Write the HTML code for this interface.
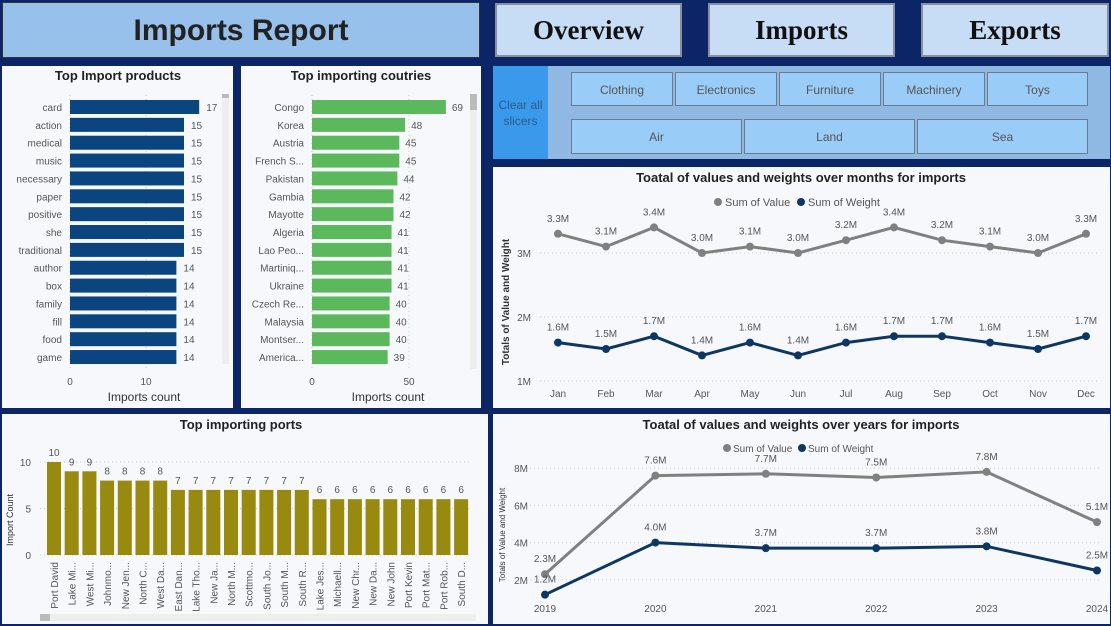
<!DOCTYPE html>
<html><head><meta charset="utf-8">
<style>
*{box-sizing:border-box;margin:0;padding:0}
body{width:1111px;height:626px;overflow:hidden;background:#0b2566;font-family:"Liberation Sans",sans-serif;position:relative}
.p{position:absolute;background:#f6f8fb}
.btn{position:absolute;background:#c6ddf5;border:2px solid #8a8f99;font-family:"Liberation Serif",serif;font-weight:bold;font-size:27px;color:#111;text-align:center;line-height:50px}
.sl{position:absolute;background:#99ccf7;border:1px solid #6b7b8c;font-size:12px;color:#555;text-align:center}
svg text{font-family:"Liberation Sans",sans-serif}
</style></head><body>
<div class="p" style="left:2px;top:2px;width:478px;height:56px;background:#97c0ea;border:1px solid #333;text-align:center;font-weight:bold;font-size:30px;line-height:56px;color:#222">Imports Report</div>
<div class="btn" style="left:495px;top:3px;width:187px;height:54px">Overview</div>
<div class="btn" style="left:708px;top:3px;width:187px;height:54px">Imports</div>
<div class="btn" style="left:921px;top:3px;width:188px;height:54px">Exports</div>

<div class="p" style="left:493px;top:66px;width:617px;height:93px;background:#8fb9e3"></div>
<div style="position:absolute;left:493px;top:66px;width:55px;height:93px;background:#3a99ea;color:#2a5c8c;font-size:12px;text-align:center;padding-top:31px;line-height:16px">Clear all slicers</div>
<div class="sl" style="left:571px;top:72px;width:102px;height:34px;line-height:34px">Clothing</div>
<div class="sl" style="left:675px;top:72px;width:102px;height:34px;line-height:34px">Electronics</div>
<div class="sl" style="left:779px;top:72px;width:102px;height:34px;line-height:34px">Furniture</div>
<div class="sl" style="left:883px;top:72px;width:102px;height:34px;line-height:34px">Machinery</div>
<div class="sl" style="left:987px;top:72px;width:101px;height:34px;line-height:34px">Toys</div>
<div class="sl" style="left:571px;top:119px;width:171px;height:35px;line-height:35px">Air</div>
<div class="sl" style="left:744px;top:119px;width:171px;height:35px;line-height:35px">Land</div>
<div class="sl" style="left:917px;top:119px;width:171px;height:35px;line-height:35px">Sea</div>

<svg width="1111" height="626" style="position:absolute;left:0;top:0" id="s"></svg>
<script>
const products=["card","action","medical","music","necessary","paper","positive","she","traditional","author","box","family","fill","food","game"];
const productCounts=[17,15,15,15,15,15,15,15,15,14,14,14,14,14,14];
const countries=["Congo","Korea","Austria","French S...","Pakistan","Gambia","Mayotte","Algeria","Lao Peo...","Martiniq...","Ukraine","Czech Re...","Malaysia","Montser...","America..."];
const countryCounts=[69,48,45,45,44,42,42,41,41,41,41,40,40,40,39];
const portNames=["Port David","Lake Mi...","West Mi...","Johnmo...","New Jen...","North C...","West Da...","East Dan...","Lake Tho...","New Ja...","North M...","Scottmo...","South Jo...","South M...","South R...","Lake Jes...","Michaell...","New Chr...","New Da...","New John","Port Kevin","Port Mat...","Port Rob...","South D..."];
const portCounts=[10,9,9,8,8,8,8,7,7,7,7,7,7,7,7,6,6,6,6,6,6,6,6,6];
const months=["Jan","Feb","Mar","Apr","May","Jun","Jul","Aug","Sep","Oct","Nov","Dec"];
const monthValue=[3.3,3.1,3.4,3.0,3.1,3.0,3.2,3.4,3.2,3.1,3.0,3.3];
const monthWeight=[1.6,1.5,1.7,1.4,1.6,1.4,1.6,1.7,1.7,1.6,1.5,1.7];
const years=["2019","2020","2021","2022","2023","2024"];
const yearValue=[2.3,7.6,7.7,7.5,7.8,5.1];
const yearWeight=[1.2,4.0,3.7,3.7,3.8,2.5];
const monthTicks=["1M","2M","3M"];
const yearTicks=["2M","4M","6M","8M"];

const s=document.getElementById('s');
function el(t,a,txt,name){const e=document.createElementNS('http://www.w3.org/2000/svg',t);for(const k in a)e.setAttribute(k,a[k]);if(txt!==undefined)e.textContent=txt;


s.appendChild(e);return e;}
el('rect',{x:2,y:66,width:231,height:342,fill:'#f6f8fb'},undefined,'products-panel');
el('rect',{x:241,y:66,width:240,height:342,fill:'#f6f8fb'},undefined,'countries-panel');
el('rect',{x:493,y:167,width:617,height:241,fill:'#f6f8fb'},undefined,'monthly-panel');
el('rect',{x:2,y:414,width:486,height:210,fill:'#f6f8fb'},undefined,'ports-panel');
el('rect',{x:493,y:414,width:617,height:210,fill:'#f6f8fb'},undefined,'yearly-panel');

// products
el('text',{x:118,y:80,'text-anchor':'middle','font-size':13,'font-weight':'bold',fill:'#222'},'Top Import products','products-title');
const px=v=>70+v*7.6;
[0,10].forEach(t=>{el('line',{x1:px(t),x2:px(t),y1:95,y2:368,stroke:'#ccc','stroke-dasharray':'1,3'},undefined,'products-grid');el('text',{x:px(t),y:385,'text-anchor':'middle','font-size':10,fill:'#555'},String(t),'products-tick');});
products.forEach((p,i)=>{const y=107+i*17.86;
el('rect',{x:70,y:y-7,width:px(productCounts[i])-70,height:14,fill:'#0a4580'},undefined,'product-bar');
el('text',{x:62,y:y+4,'text-anchor':'end','font-size':10,fill:'#555'},p,'product-label');
el('text',{x:px(productCounts[i])+7,y:y+4,'font-size':10,fill:'#555'},String(productCounts[i]),'product-value');});
el('text',{x:144,y:401,'text-anchor':'middle','font-size':12,fill:'#333'},'Imports count','products-x-title');
el('rect',{x:222,y:94,width:7,height:270,fill:'#eee'},undefined,'products-scrollbar');
el('rect',{x:222,y:94,width:7,height:4,fill:'#bbb'},undefined,'products-scroll-thumb');

// countries
el('text',{x:361,y:80,'text-anchor':'middle','font-size':13,'font-weight':'bold',fill:'#222'},'Top importing coutries','countries-title');
const cx=v=>312+v*1.94;
[0,50].forEach(t=>{el('line',{x1:cx(t),x2:cx(t),y1:95,y2:368,stroke:'#ccc','stroke-dasharray':'1,3'},undefined,'countries-grid');el('text',{x:cx(t),y:385,'text-anchor':'middle','font-size':10,fill:'#555'},String(t),'countries-tick');});
countries.forEach((p,i)=>{const y=107+i*17.86;
el('rect',{x:312,y:y-7,width:cx(countryCounts[i])-312,height:14,fill:'#5cb85c'},undefined,'country-bar');
el('text',{x:304,y:y+4,'text-anchor':'end','font-size':10,fill:'#555'},p,'country-label');
el('text',{x:cx(countryCounts[i])+6,y:y+4,'font-size':10,fill:'#555'},String(countryCounts[i]),'country-value');});
el('text',{x:388,y:401,'text-anchor':'middle','font-size':12,fill:'#333'},'Imports count','countries-x-title');
el('rect',{x:470,y:94,width:7,height:275,fill:'#eee'},undefined,'countries-scrollbar');
el('rect',{x:470,y:94,width:7,height:16,fill:'#bbb'},undefined,'countries-scroll-thumb');

// ports
el('text',{x:241,y:429,'text-anchor':'middle','font-size':13,'font-weight':'bold',fill:'#222'},'Top importing ports','ports-title');
const py=v=>555-v*9.3;
[0,5,10].forEach(t=>{el('line',{x1:40,x2:472,y1:py(t),y2:py(t),stroke:'#ccc','stroke-dasharray':'1,3'},undefined,'ports-grid');el('text',{x:31,y:py(t)+4,'text-anchor':'end','font-size':10,fill:'#555'},String(t),'ports-tick');});
el('text',{x:0,y:0,transform:'translate(13,520) rotate(-90)','font-size':9,fill:'#333','text-anchor':'middle'},'Import Count','ports-y-title');
portCounts.forEach((v,i)=>{const x=54+i*17.7;
el('rect',{x:x-7,y:py(v),width:14,height:555-py(v),fill:'#978a0e'},undefined,'port-bar');
el('text',{x:x,y:py(v)-6,'text-anchor':'middle','font-size':10,fill:'#555'},String(v),'port-value');
el('text',{x:0,y:0,transform:`translate(${x+4},562) rotate(-90)`,'text-anchor':'end','font-size':10,fill:'#555'},portNames[i],'port-label');});
el('rect',{x:40,y:614,width:436,height:7,fill:'#eee'},undefined,'ports-scrollbar');
el('rect',{x:40,y:614,width:10,height:7,fill:'#bbb'},undefined,'ports-scroll-thumb');

// monthly
el('text',{x:801,y:182,'text-anchor':'middle','font-size':13,'font-weight':'bold',fill:'#222'},'Toatal of values and weights over months for imports','monthly-title');
el('circle',{cx:718,cy:202,r:4,fill:'#808080'},undefined,'legend-value-dot');
el('text',{x:725,y:206,'font-size':11,fill:'#555'},'Sum of Value','legend-value');
el('circle',{cx:801,cy:202,r:4,fill:'#0d3763'},undefined,'legend-weight-dot');
el('text',{x:808,y:206,'font-size':11,fill:'#555'},'Sum of Weight','legend-weight');
const mx=i=>558+i*48, my=v=>381-(v-1)*64;
monthTicks.forEach((t,i)=>{const v=i+1;el('line',{x1:540,x2:1100,y1:my(v),y2:my(v),stroke:'#ccc','stroke-dasharray':'1,3'},undefined,'monthly-grid');el('text',{x:531,y:my(v)+4,'text-anchor':'end','font-size':10,fill:'#555'},t,'monthly-y-tick');});
el('text',{x:0,y:0,transform:'translate(509,302) rotate(-90)','font-size':10,'font-weight':'bold',fill:'#333','text-anchor':'middle'},'Totals of Value and Weight','monthly-y-title');
months.forEach((m,i)=>el('text',{x:mx(i),y:397,'text-anchor':'middle','font-size':10,fill:'#555'},m,'monthly-x-tick'));
function series(xs,ys,xf,yf,col,nm){el('polyline',{points:ys.map((v,i)=>xf(i)+','+yf(v)).join(' '),fill:'none',stroke:col,'stroke-width':3},undefined,nm+'-line');
ys.forEach((v,i)=>{el('circle',{cx:xf(i),cy:yf(v),r:4,fill:col},undefined,nm+'-point');el('text',{x:xf(i),y:yf(v)-12,'text-anchor':'middle','font-size':10,fill:'#555'},v.toFixed(1)+'M',nm+'-label');});}
series(months,monthValue,mx,my,'#808080','month-value');
series(months,monthWeight,mx,my,'#0d3763','month-weight');

// yearly
el('text',{x:801,y:429,'text-anchor':'middle','font-size':13,'font-weight':'bold',fill:'#222'},'Toatal of values and weights over years for imports','yearly-title');
el('circle',{cx:727,cy:448,r:4,fill:'#808080'},undefined,'legend-value-dot');
el('text',{x:733,y:452,'font-size':10,fill:'#555'},'Sum of Value','legend-value');
el('circle',{cx:802,cy:448,r:4,fill:'#0d3763'},undefined,'legend-weight-dot');
el('text',{x:808,y:452,'font-size':10,fill:'#555'},'Sum of Weight','legend-weight');
const yx=i=>545+i*110.4, yy=v=>617-v*18.6;
yearTicks.forEach((t,i)=>{const v=(i+1)*2;el('line',{x1:530,x2:1100,y1:yy(v),y2:yy(v),stroke:'#ccc','stroke-dasharray':'1,3'},undefined,'yearly-grid');el('text',{x:528,y:yy(v)+4,'text-anchor':'end','font-size':10,fill:'#555'},t,'yearly-y-tick');});
el('text',{x:0,y:0,transform:'translate(505,535) rotate(-90)','font-size':8,fill:'#333','text-anchor':'middle'},'Totals of Value and Weight','yearly-y-title');
years.forEach((m,i)=>el('text',{x:yx(i),y:612,'text-anchor':'middle','font-size':10,fill:'#555'},m,'yearly-x-tick'));
series(years,yearValue,yx,yy,'#808080','year-value');
series(years,yearWeight,yx,yy,'#0d3763','year-weight');
</script>
</body></html>
